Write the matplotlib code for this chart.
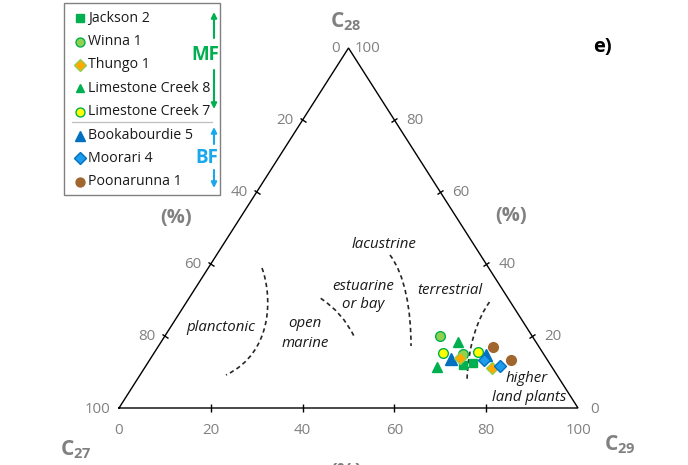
import math
import matplotlib
matplotlib.use("Agg")
import matplotlib.pyplot as plt
from matplotlib.path import Path
from matplotlib.patches import PathPatch, Rectangle
from matplotlib.markers import MarkerStyle
from matplotlib.transforms import Affine2D

plt.rcParams['font.family'] = ['Open Sans', 'DejaVu Sans']
plt.rcParams['mathtext.fontset'] = 'custom'
plt.rcParams['mathtext.rm'] = 'Open Sans'
plt.rcParams['mathtext.bf'] = 'Open Sans:bold'

# ---- sterane composition (%) per well: C28 and C29 (C27 = remainder) ----
wells = ['Jackson 2', 'Winna 1', 'Thungo 1', 'Limestone Creek 8',
         'Limestone Creek 7', 'Bookabourdie 5', 'Moorari 4', 'Poonarunna 1']

jackson2_c28 = [11.9, 12.4]
jackson2_c29 = [69.0, 70.9]
winna1_c28 = [20.1, 14.9]
winna1_c29 = [59.9, 67.5]
thungo1_c28 = [13.8, 11.2]
thungo1_c29 = [67.4, 75.6]
limestone8_c28 = [18.2, 11.5]
limestone8_c29 = [64.8, 63.6]
limestone7_c28 = [15.4, 15.5]
limestone7_c29 = [62.8, 70.5]
bookabourdie5_c28 = [13.6, 14.6]
bookabourdie5_c29 = [65.5, 72.7]
moorari4_c28 = [13.3, 11.75]
moorari4_c29 = [72.9, 77.1]
poonarunna1_c28 = [17.0, 13.3]
poonarunna1_c29 = [73.0, 78.7]

series_c28 = [jackson2_c28, winna1_c28, thungo1_c28, limestone8_c28,
              limestone7_c28, bookabourdie5_c28, moorari4_c28, poonarunna1_c28]
series_c29 = [jackson2_c29, winna1_c29, thungo1_c29, limestone8_c29,
              limestone7_c29, bookabourdie5_c29, moorari4_c29, poonarunna1_c29]

tick_values = [0, 20, 40, 60, 80, 100]

GREEN = '#00B050'
LGREEN = '#92D050'
BLUE = '#0070C0'
SKY = '#1AA7EC'
GRAY = '#808080'

# marker, face, edge, size, zorder
styles = [
    ('s', GREEN, GREEN, 6.4, 6),
    ('o', LGREEN, GREEN, 7.0, 3),
    ('D', '#FFA800', LGREEN, 6.3, 7),
    ('^', GREEN, GREEN, 7.0, 4),
    ('o', '#FFFF00', GREEN, 7.0, 5),
    ('^', BLUE, BLUE, 8.0, 5),
    ('D', '#1E9BEA', BLUE, 6.3, 8),
    ('o', '#A0662E', '#A0662E', 7.0, 5),
]


def project(c28, c29):
    """Ternary (C28, C29) -> cartesian position in the triangle frame."""
    xs = [b + a / 2.0 for a, b in zip(c28, c29)]
    ys = list(c28)
    return xs, ys


fig = plt.figure(figsize=(6.88, 4.65), dpi=100)
W, H = 688, 465

ax = fig.add_axes([119 / W, 57 / H, 459 / W, 360 / H])
ax.set_xlim(0, 100)
ax.set_ylim(0, 100)
ax.axis('off')

ov = fig.add_axes([0, 0, 1, 1], zorder=-1)
ov.set_xlim(0, W)
ov.set_ylim(H, 0)
ov.axis('off')

# triangle frame
ax.plot([0, 100, 50, 0], [0, 0, 100, 0], color='black', lw=1.0,
        clip_on=False, zorder=2, solid_joinstyle='miter')

# tick marks
fig.canvas.draw()
p0 = ax.transData.transform((0, 0))
p1 = ax.transData.transform((50, 100))
left_ang = math.degrees(math.atan2(p1[1] - p0[1], p1[0] - p0[0]))
left_tick = MarkerStyle('_', transform=Affine2D().rotate_deg(left_ang + 90))
right_tick = MarkerStyle('_', transform=Affine2D().rotate_deg(180 - left_ang + 90))

inner = tick_values[1:-1]
ax.plot(inner, [0] * len(inner), ls='none', marker='|', ms=5.5, mew=1.0,
        color='black', clip_on=False)
lx, ly = project([100 - v for v in inner], [0] * len(inner))
ax.plot(lx, ly, ls='none', marker=left_tick, ms=4.5, mew=1.0,
        color='black', clip_on=False)
rx, ry = project(inner, [100 - v for v in inner])
ax.plot(rx, ry, ls='none', marker=right_tick, ms=4.5, mew=1.0,
        color='black', clip_on=False)

tick_kw = dict(textcoords='offset pixels', color=GRAY, fontsize=10.8,
               va='center', annotation_clip=False)
# bottom axis: C29
for v in tick_values:
    ax.annotate(str(v), xy=(v, 0), xytext=(0, -22), ha='center', **tick_kw)
# left axis: C27 (0 at apex, 100 at lower-left corner)
for v in tick_values:
    x, y = project([100 - v], [0])
    ax.annotate(str(v), xy=(x[0], y[0]), xytext=(-9, -1), ha='right', **tick_kw)
# right axis: C28 (100 at apex, 0 at lower-right corner)
for v in tick_values:
    x, y = project([v], [100 - v])
    dx = 6 if v == 100 else 12
    ax.annotate(str(v), xy=(x[0], y[0]), xytext=(dx, -1), ha='left', **tick_kw)

# environment boundaries (dashed)
dash_kw = dict(facecolor='none', edgecolor='#262626', lw=1.2,
               linestyle=(0, (2.6, 2.0)), zorder=2, clip_on=False)
C4, C3 = Path.CURVE4, Path.CURVE3
boundaries = [
    ([(31.15, 38.89), (33.33, 31.39), (33.77, 15.56), (23.31, 9.17)],
     [Path.MOVETO, C4, C4, C4]),
    ([(43.94, 30.47), (48.69, 26.53), (51.26, 19.81)],
     [Path.MOVETO, C3, C3]),
    ([(59.04, 42.5), (62.31, 36.94), (63.62, 27.22), (63.62, 17.22)],
     [Path.MOVETO, C4, C4, C4]),
    ([(80.72, 29.44), (78.21, 25.0), (76.03, 17.5), (75.82, 7.5)],
     [Path.MOVETO, C4, C4, C4]),
]
for verts, codes in boundaries:
    ax.add_patch(PathPatch(Path(verts, codes), **dash_kw))

# environment labels
env_kw = dict(style='italic', fontsize=10.8, color='#1a1a1a',
              ha='center', va='center')
ov.text(221, 327, 'planctonic', **env_kw)
ov.text(305, 323, 'open', **env_kw)
ov.text(305, 343, 'marine', **env_kw)
ov.text(363, 286, 'estuarine', **env_kw)
ov.text(363, 304, 'or bay', **env_kw)
ov.text(384, 244, 'lacustrine', **env_kw)
ov.text(450, 290, 'terrestrial', **env_kw)
ov.text(527, 378, 'higher', **env_kw)
ov.text(529, 397, 'land plants', **env_kw)

# data points
for name, c28, c29, (m, fc, ec, ms, z) in zip(wells, series_c28, series_c29, styles):
    xs, ys = project(c28, c29)
    ax.plot(xs, ys, ls='none', marker=m, ms=ms, mfc=fc, mec=ec, mew=1.0,
            zorder=z, clip_on=False, label=name)

# corner labels
corner_kw = dict(color=GRAY, fontsize=15, ha='center', va='baseline')
ov.text(346, 27, r'$\mathbf{C}_{\mathbf{28}}$', **corner_kw)
ov.text(76, 455, r'$\mathbf{C}_{\mathbf{27}}$', **corner_kw)
ov.text(620, 450, r'$\mathbf{C}_{\mathbf{29}}$', **corner_kw)

pct_kw = dict(color=GRAY, fontsize=14.5, fontweight='bold', ha='center', va='center')
ov.text(176, 218, '(%)', **pct_kw)
ov.text(511, 216, '(%)', **pct_kw)
ov.text(346, 472, '(%)', **pct_kw)

ov.text(602, 47, 'e)', fontsize=14.5, fontweight='bold', color='black',
        ha='center', va='center')

# legend panel
leg = fig.add_axes([0, 0, 1, 1], zorder=5)
leg.set_xlim(0, W)
leg.set_ylim(H, 0)
leg.axis('off')
leg.add_patch(Rectangle((64, 3), 156, 192, facecolor='white',
                        edgecolor=GRAY, lw=1.0))
row_y = [18.3, 41.7, 65.0, 88.3, 111.7, 135.7, 158.3, 181.7]
for name, y, (m, fc, ec, ms, z) in zip(wells, row_y, styles):
    leg.plot([80], [y], ls='none', marker=m, ms=ms * 0.92, mfc=fc, mec=ec, mew=1.0)
    leg.text(88, y, name, fontsize=10.2, color='#1a1a1a', ha='left', va='center')
leg.plot([72, 212], [121.7, 121.7], color='#bfbfbf', lw=0.9)

arrow_kw = dict(arrowstyle='-|>', lw=1.5, mutation_scale=8, shrinkA=0, shrinkB=0)
leg.annotate('', xy=(214, 12), xytext=(214, 38), arrowprops=dict(color=GREEN, **arrow_kw))
leg.annotate('', xy=(214, 109), xytext=(214, 70), arrowprops=dict(color=GREEN, **arrow_kw))
leg.text(205, 55, 'MF', color=GREEN, fontsize=13.5, fontweight='bold',
         ha='center', va='center')
leg.annotate('', xy=(214, 127), xytext=(214, 144), arrowprops=dict(color=SKY, **arrow_kw))
leg.annotate('', xy=(214, 188), xytext=(214, 170), arrowprops=dict(color=SKY, **arrow_kw))
leg.text(207, 158, 'BF', color=SKY, fontsize=13.5, fontweight='bold',
         ha='center', va='center')

fig.savefig('out.png', dpi=100)
